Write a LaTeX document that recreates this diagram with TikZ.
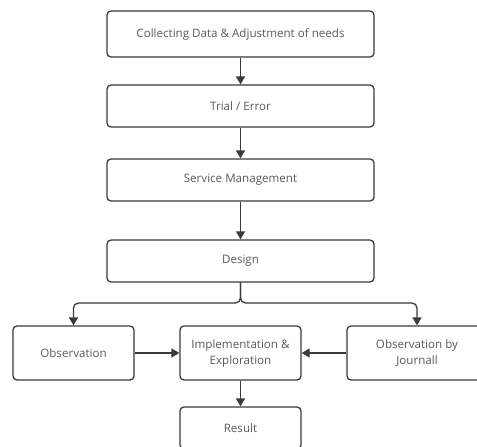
\documentclass[tikz,border=0pt]{standalone}
\usepackage{fontspec}
\setmainfont{Open Sans}
\usetikzlibrary{arrows.meta}
\definecolor{edge}{HTML}{3A3A3A}
\definecolor{txt}{HTML}{5A5A5A}
\tikzset{
  box/.style={draw=edge, line width=1.3pt, rounded corners=4pt, fill=white,
    text=txt, align=center, font=\fontsize{11.6}{16}\selectfont, inner sep=0pt},
  arr/.style={draw=edge, line width=1.3pt, -{Triangle[length=8pt,width=9pt]}}
}
\begin{document}
\begin{tikzpicture}[x=1pt,y=-1pt]
\clip (0,0) rectangle (477,447);
\fill[white] (0,0) rectangle (477,447);
\node[box, minimum width=267pt, minimum height=46pt] (collect) at (240.5,34) {Collecting Data \& Adjustment of needs};
\node[box, minimum width=267pt, minimum height=42pt] (trial) at (240.5,106) {Trial / Error};
\node[box, minimum width=267pt, minimum height=42pt] (service) at (240.5,180) {Service Management};
\node[box, minimum width=267pt, minimum height=42pt] (design) at (240.5,261) {Design};
\node[box, minimum width=121pt, minimum height=54pt] (obs) at (73.5,353) {Observation};
\node[box, minimum width=121pt, minimum height=54pt] (impl) at (240.5,353) {Implementation \&\\Exploration};
\node[box, minimum width=140pt, minimum height=54pt] (journal) at (417,353) {Observation by\\Journall};
\node[box, minimum width=121pt, minimum height=42pt] (result) at (240.5,428) {Result};
\coordinate (br) at (240.5,303);
\draw[arr] (collect) -- (trial);
\draw[arr] (trial) -- (service);
\draw[arr] (service) -- (design);
\draw[arr, rounded corners=5pt] (design.south) -- (br) -| (obs.north);
\draw[arr, rounded corners=5pt] (design.south) -- (br) -| (journal.north);
\draw[arr] (obs) -- (impl);
\draw[arr] (journal) -- (impl);
\draw[arr] (impl) -- (result);
\end{tikzpicture}
\end{document}
